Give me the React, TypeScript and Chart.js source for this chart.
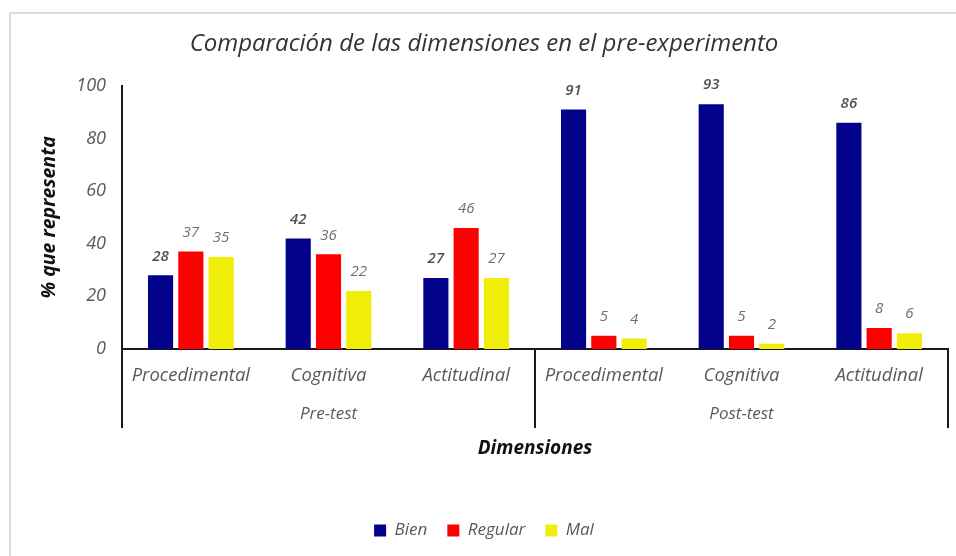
import React, { useEffect, useRef } from 'react';
import { Chart, registerables } from 'chart.js';

Chart.register(...registerables);

const titleText = 'Comparación de las dimensiones en el pre-experimento';
const categories = ['Procedimental', 'Cognitiva', 'Actitudinal', 'Procedimental', 'Cognitiva', 'Actitudinal'];
const groupLabels = ['Pre-test', 'Post-test'];
const groupSizes = [3, 3];
const seriesNames = ['Bien', 'Regular', 'Mal'];
const bien = [28, 42, 27, 91, 93, 86];
const regular = [37, 36, 46, 5, 5, 8];
const mal = [35, 22, 27, 4, 2, 6];
const seriesColors = ['#02028a', '#ff0000', '#f0ee08'];
const yMin = 0;
const yMax = 100;
const yStep = 20;

const FONT = '"Open Sans", Lato, "DejaVu Sans", sans-serif';

const valueLabelPlugin = {
  id: 'valueLabels',
  afterDatasetsDraw(chart: any) {
    const ctx = chart.ctx;
    ctx.save();
    ctx.textAlign = 'center';
    ctx.textBaseline = 'middle';
    chart.data.datasets.forEach((ds: any, di: number) => {
      const meta = chart.getDatasetMeta(di);
      ctx.font = (di === 0 ? 'italic 600 15px ' : 'italic 15px ') + FONT;
      ctx.fillStyle = di === 0 ? '#505050' : '#6f6f6f';
      meta.data.forEach((el: any, i: number) => {
        ctx.fillText(String(ds.data[i]), el.x, el.y - 19);
      });
    });
    ctx.restore();
  },
};

const groupAxisPlugin = {
  id: 'groupAxis',
  afterDraw(chart: any) {
    const ctx = chart.ctx;
    const x = chart.scales.x;
    const { left, right, bottom } = chart.chartArea;
    const lineBottom = bottom + 79;
    const bounds: number[] = [left];
    let idx = 0;
    groupSizes.forEach((n, gi) => {
      idx += n;
      if (gi < groupSizes.length - 1) {
        bounds.push((x.getPixelForValue(idx - 1) + x.getPixelForValue(idx)) / 2);
      }
    });
    bounds.push(right);
    ctx.save();
    ctx.strokeStyle = '#1a1a1a';
    ctx.lineWidth = 2;
    bounds.forEach((bx) => {
      ctx.beginPath();
      ctx.moveTo(bx, bottom);
      ctx.lineTo(bx, lineBottom);
      ctx.stroke();
    });
    ctx.font = 'italic 17px ' + FONT;
    ctx.fillStyle = '#595959';
    ctx.textAlign = 'center';
    ctx.textBaseline = 'middle';
    groupLabels.forEach((g, gi) => {
      ctx.fillText(g, (bounds[gi] + bounds[gi + 1]) / 2, bottom + 65);
    });
    ctx.restore();
  },
};

export default function App() {
  const ref = useRef<HTMLCanvasElement | null>(null);

  useEffect(() => {
    if (!ref.current) return;
    const chart = new Chart(ref.current, {
      type: 'bar',
      data: {
        labels: categories,
        datasets: [
          { label: seriesNames[0], data: bien, backgroundColor: seriesColors[0] },
          { label: seriesNames[1], data: regular, backgroundColor: seriesColors[1] },
          { label: seriesNames[2], data: mal, backgroundColor: seriesColors[2] },
        ],
      },
      options: {
        animation: false,
        responsive: true,
        maintainAspectRatio: false,
        datasets: { bar: { categoryPercentage: 0.66, barPercentage: 0.83 } },
        layout: { padding: { left: 20, right: 8, top: 0, bottom: 7 } },
        plugins: {
          title: {
            display: true,
            text: titleText,
            color: '#333333',
            font: { family: FONT, size: 24, style: 'italic', weight: 'normal' },
            padding: { top: 30, bottom: 27 },
          },
          legend: {
            position: 'bottom',
            labels: {
              boxWidth: 12,
              boxHeight: 12,
              padding: 20,
              color: '#595959',
              font: { family: FONT, size: 17, style: 'italic' },
            },
          },
          tooltip: { enabled: false },
        },
        scales: {
          x: {
            grid: { display: false, drawTicks: false },
            border: { display: true, color: '#1a1a1a', width: 2 },
            ticks: {
              padding: 16,
              color: '#595959',
              font: { family: FONT, size: 18.5, style: 'italic' },
              maxRotation: 0,
              autoSkip: false,
            },
            title: {
              display: true,
              text: 'Dimensiones',
              color: '#111111',
              font: { family: FONT, size: 19, style: 'italic', weight: 'bold' },
              padding: { top: 0, bottom: 42 },
            },
            afterFit: (scale: any) => {
              scale.height = 153;
            },
          },
          y: {
            min: yMin,
            max: yMax,
            grid: { display: false, drawTicks: false },
            border: { display: true, color: '#1a1a1a', width: 2 },
            ticks: {
              stepSize: yStep,
              padding: 16,
              color: '#595959',
              font: { family: FONT, size: 18, style: 'italic' },
            },
            title: {
              display: true,
              text: '% que representa',
              color: '#111111',
              font: { family: FONT, size: 19.5, style: 'italic', weight: 'bold' },
              padding: { top: 18, bottom: 0 },
            },
            afterFit: (scale: any) => {
              scale.width = 102;
            },
          },
        },
      },
      plugins: [valueLabelPlugin, groupAxisPlugin],
    });
    return () => chart.destroy();
  }, []);

  return (
    <div style={{ position: 'absolute', left: 0, top: 0, width: 956, height: 556, background: '#fff', overflow: 'hidden' }}>
      <div
        style={{
          position: 'absolute',
          left: 9,
          top: 12,
          width: 1000,
          height: 600,
          borderTop: '2px solid #dcdcdc',
          borderLeft: '2px solid #dcdcdc',
        }}
      />
      <canvas ref={ref} style={{ position: 'absolute', left: 0, top: 0 }} />
    </div>
  );
}
